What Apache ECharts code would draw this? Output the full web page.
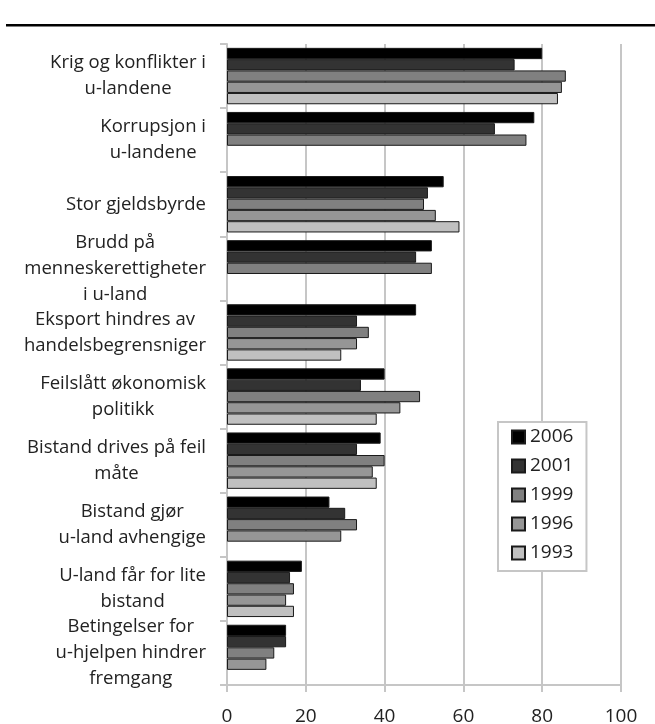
<!DOCTYPE html>
<html>
<head>
<meta charset="utf-8">
<script src="https://cdn.jsdelivr.net/npm/echarts@6/dist/echarts.min.js"></script>
<style>
  html, body { margin: 0; padding: 0; background: #fff; }
  #main { width: 655px; height: 724px; }
</style>
</head>
<body>
<div id="main"></div>
<script>
let categories = [
    'Krig og konflikter i\nu-landene',
    'Korrupsjon i\nu-landene',
    'Stor gjeldsbyrde',
    'Brudd på\nmenneskerettigheter\ni u-land',
    'Eksport hindres av\nhandelsbegrensniger',
    'Feilslått økonomisk\npolitikk',
    'Bistand drives på feil\nmåte',
    'Bistand gjør\nu-land avhengige',
    'U-land får for lite\nbistand',
    'Betingelser for\nu-hjelpen hindrer\nfremgang'
];

let years = ['2006', '2001', '1999', '1996', '1993'];

let v2006 = [80, 78, 55, 52, 48, 40, 39, 26, 19, 15];
let v2001 = [73, 68, 51, 48, 33, 34, 33, 30, 16, 15];
let v1999 = [86, 76, 50, 52, 36, 49, 40, 33, 17, 12];
let v1996 = [85, null, 53, null, 33, 44, 37, 29, 15, 10];
let v1993 = [84, null, 59, null, 29, 38, 38, null, 17, null];

let xTicks = [0, 20, 40, 60, 80, 100];

let values = [v2006, v2001, v1999, v1996, v1993];
let colors = ['#000000', '#333333', '#808080', '#969696', '#c0c0c0'];

let font = '"Open Sans", "Noto Sans", sans-serif';
let gridColor = '#c6c6c6';

let series = years.map((y, i) => ({
    name: y,
    type: 'bar',
    data: values[i],
    barGap: 0,
    barCategoryGap: '12%',
    itemStyle: {
        color: colors[i],
        borderColor: '#1a1a1a',
        borderWidth: 1
    },
    z: 3
}));

let option = {
    animation: false,
    backgroundColor: '#fff',
    textStyle: { fontFamily: font },
    graphic: [{
        type: 'rect',
        shape: { x: 6, y: 24, width: 649, height: 2.5 },
        style: { fill: '#000' }
    }],
    grid: {
        left: 227,
        right: 34,
        top: 44,
        bottom: 39,
        outerBoundsMode: 'none'
    },
    legend: {
        orient: 'vertical',
        left: 498,
        top: 422,
        data: years,
        icon: 'rect',
        itemWidth: 13,
        itemHeight: 13,
        itemGap: 9,
        padding: [5, 13, 8, 13],
        borderColor: gridColor,
        borderWidth: 2,
        backgroundColor: '#fff',
        textStyle: { fontSize: 19, color: '#222', lineHeight: 20, fontFamily: font }
    },
    xAxis: {
        type: 'value',
        min: 0,
        max: 100,
        interval: 20,
        axisLine: { show: true, lineStyle: { color: gridColor, width: 2 } },
        axisTick: { show: true, length: 7, lineStyle: { color: gridColor, width: 2 } },
        splitLine: { show: true, lineStyle: { color: gridColor, width: 2 } },
        axisLabel: {
            fontSize: 19,
            color: '#222',
            margin: 22,
            fontFamily: font,
            formatter: v => xTicks.includes(v) ? String(v) : ''
        }
    },
    yAxis: {
        type: 'category',
        data: categories,
        inverse: true,
        axisLine: { show: true, lineStyle: { color: gridColor, width: 2 } },
        axisTick: { show: true, length: 7, lineStyle: { color: gridColor, width: 2 } },
        axisLabel: {
            margin: 21,
            align: 'right',
            formatter: v => v.split('\n').map(l => '{c|' + l + '}').join('\n'),
            rich: {
                c: {
                    align: 'center',
                    fontSize: 18.5,
                    lineHeight: 26,
                    color: '#222',
                    fontFamily: font
                }
            }
        }
    },
    series: series
};

echarts.init(document.getElementById('main')).setOption(option);
</script>
</body>
</html>
